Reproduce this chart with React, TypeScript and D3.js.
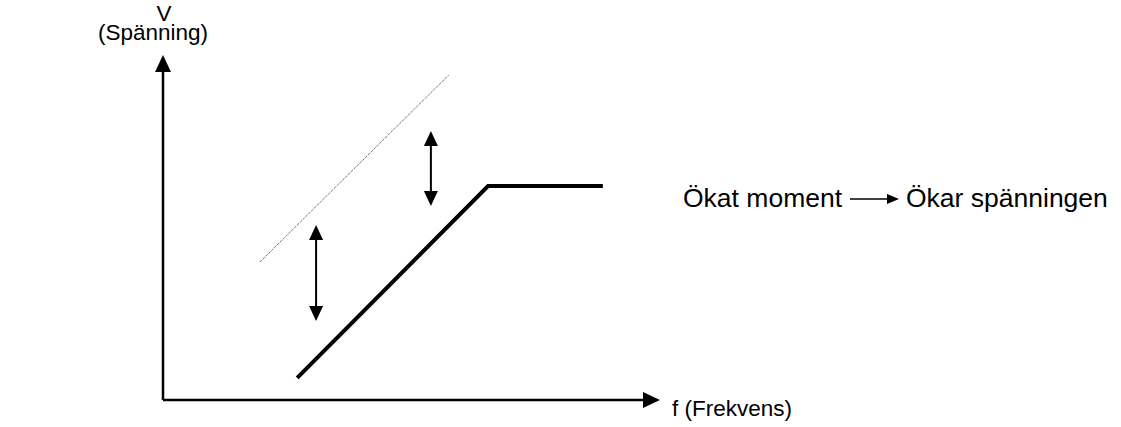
import React from "react";
import * as d3 from "d3";

const W = 1121;
const H = 427;

// axis extents in data units (f, V)
const fDomain = [0, 10];
const vDomain = [0, 10];

// main V/f characteristic
const mainLine: [number, number][] = [
  [2.7, 0.64],
  [6.54, 6.2],
  [8.85, 6.2],
];

// thin dotted reference line (increased voltage)
const refLine: [number, number][] = [
  [1.95, 4.0],
  [5.75, 9.42],
];

// double-headed arrows: [f, Vtop, Vbottom]
const arrows: [number, number, number][] = [
  [5.39, 7.8, 5.62],
  [3.08, 5.07, 2.29],
];

const yLabel = ["V", "(Spänning)"];
const xLabel = "f (Frekvens)";
const noteLeft = "Ökat moment";
const noteRight = "Ökar spänningen";

export default function App() {
  const x = d3.scaleLinear().domain(fDomain).range([163, 660]);
  const y = d3.scaleLinear().domain(vDomain).range([400, 55]);
  const line = d3
    .line<[number, number]>()
    .x((d) => x(d[0]))
    .y((d) => y(d[1]));

  const font = "Liberation Sans, Arial, sans-serif";
  const fs = 22.5;
  const head = (tx: number, ty: number, dir: "up" | "down" | "right", w = 8, l = 17) => {
    let pts: number[][];
    if (dir === "up") pts = [[tx, ty], [tx - w, ty + l], [tx + w, ty + l]];
    else if (dir === "down") pts = [[tx, ty], [tx - w, ty - l], [tx + w, ty - l]];
    else pts = [[tx, ty], [tx - l, ty - w], [tx - l, ty + w]];
    return <polygon points={pts.map((p) => p.join(",")).join(" ")} fill="#000" />;
  };

  return (
    <svg width={W} height={H} style={{ position: "absolute", left: 0, top: 0, background: "#fff" }}>
      {/* axes */}
      <line x1={x(0)} y1={y(0)} x2={x(0)} y2={y(vDomain[1]) + 10} stroke="#000" strokeWidth={2.5} />
      {head(x(0), y(vDomain[1]), "up")}
      <line x1={x(0)} y1={y(0)} x2={x(fDomain[1]) - 10} y2={y(0)} stroke="#000" strokeWidth={2.5} />
      {head(x(fDomain[1]), y(0), "right")}

      {/* reference line */}
      <path d={line(refLine) || ""} fill="none" stroke="#555" strokeWidth={0.8} strokeDasharray="3,1" />

      {/* main line */}
      <path d={line(mainLine) || ""} fill="none" stroke="#000" strokeWidth={4} strokeLinejoin="miter" />

      {/* double arrows */}
      {arrows.map(([f, v1, v2], i) => (
        <g key={i}>
          <line x1={x(f)} y1={y(v1) + 10} x2={x(f)} y2={y(v2) - 10} stroke="#000" strokeWidth={2} />
          {head(x(f), y(v1), "up", 7, 15)}
          {head(x(f), y(v2), "down", 7, 15)}
        </g>
      ))}

      {/* labels */}
      <text x={164} y={21} textAnchor="middle" fontFamily={font} fontSize={fs}>{yLabel[0]}</text>
      <text x={153} y={40} textAnchor="middle" fontFamily={font} fontSize={fs}>{yLabel[1]}</text>
      <text x={672} y={416} fontFamily={font} fontSize={fs}>{xLabel}</text>

      <text x={683} y={207} fontFamily={font} fontSize={26.5}>{noteLeft}</text>
      <line x1={850} y1={199} x2={888} y2={199} stroke="#000" strokeWidth={1.5} />
      {head(899, 199, "right", 5, 12)}
      <text x={906} y={207} fontFamily={font} fontSize={26.5}>{noteRight}</text>
    </svg>
  );
}
